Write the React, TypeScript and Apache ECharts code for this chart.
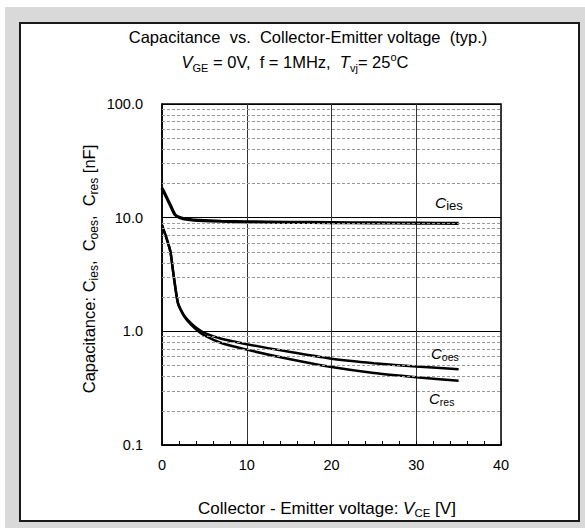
import React, { useEffect, useRef } from "react";
import * as echarts from "echarts";

// Data
const vceCies = [0, 0.5, 1, 1.5, 2, 3, 5, 7, 10, 15, 20, 25, 30, 35];
const cies = [18.2, 15.3, 12.8, 10.7, 10.1, 9.65, 9.4, 9.3, 9.2, 9.1, 9.05, 9.0, 8.95, 8.9];
const vceOut = [0, 0.5, 1, 1.3, 1.6, 1.9, 2.5, 3, 4, 5, 7, 10, 15, 20, 25, 30, 35];
const coes = [8.6, 6.7, 5.0, 3.4, 2.35, 1.75, 1.42, 1.27, 1.08, 0.97, 0.86, 0.77, 0.66, 0.575, 0.525, 0.49, 0.465];
const cres = [8.6, 6.7, 5.0, 3.4, 2.35, 1.75, 1.4, 1.24, 1.04, 0.92, 0.79, 0.69, 0.57, 0.485, 0.43, 0.395, 0.367];
const minorGrid = [0.2, 0.3, 0.4, 0.5, 0.6, 0.7, 0.8, 0.9, 2, 3, 4, 5, 6, 7, 8, 9, 20, 30, 40, 50, 60, 70, 80, 90];

const FONT = "'Liberation Sans', Arial, sans-serif";

function pairs(xs: number[], ys: number[]) {
  return xs.map((x, i) => [x, ys[i]]);
}

export default function App() {
  const ref = useRef<HTMLDivElement>(null);
  useEffect(() => {
    if (!ref.current) return;
    const chart = echarts.init(ref.current, null, { renderer: "svg" });
    const base = { fontFamily: FONT, color: "#000" };
    const rich = {
      n: { ...base, fontSize: 16.5, lineHeight: 22 },
      i: { ...base, fontSize: 16.5, lineHeight: 22, fontStyle: "italic" },
      s: { ...base, fontSize: 11, lineHeight: 12, verticalAlign: "bottom" },
      sup: { ...base, fontSize: 11, lineHeight: 12, verticalAlign: "top" },
      xn: { ...base, fontSize: 17, lineHeight: 22 },
      xi: { ...base, fontSize: 17, lineHeight: 22, fontStyle: "italic" },
      xs: { ...base, fontSize: 11.5, lineHeight: 12, verticalAlign: "bottom" },
      yn: { ...base, fontSize: 16.5, lineHeight: 22 },
      ys: { ...base, fontSize: 12, lineHeight: 12, verticalAlign: "bottom" },
      ci: { ...base, fontSize: 15.5, lineHeight: 20, fontStyle: "italic" },
      cs: { ...base, fontSize: 13, lineHeight: 12, verticalAlign: "bottom" },
      ci2: { ...base, fontSize: 15, lineHeight: 18, fontStyle: "italic" },
      cs2: { ...base, fontSize: 10.5, lineHeight: 11, verticalAlign: "bottom" },
    };
    chart.setOption({
      animation: false,
      graphic: [
        { type: "rect", z: -10, shape: { x: 5, y: 7, width: 580, height: 521 }, style: { fill: "#d9d9d9" } },
        { type: "rect", z: -9, shape: { x: 20, y: 23, width: 559, height: 498 }, style: { fill: "#fff", stroke: "#1a1a1a", lineWidth: 2 } },
        { type: "text", z: 100, x: 308, y: 37, style: { text: "Capacitance  vs.  Collector-Emitter voltage  (typ.)", font: `16.5px ${FONT}`, fill: "#000", align: "center", verticalAlign: "middle" } },
        { type: "text", z: 100, x: 295, y: 62, style: { text: "{i|V}{s|GE}{n| = 0V,  f = 1MHz,  }{i|T}{s|vj}{n|= 25}{sup|o}{n|C}", rich, align: "center", verticalAlign: "middle" } },
        { type: "text", z: 100, x: 89, y: 269, rotation: Math.PI / 2, style: { text: "{yn|Capacitance: C}{ys|ies}{yn|,  C}{ys|oes}{yn|,  C}{ys|res}{yn| [nF]}", rich, align: "center", verticalAlign: "middle" } },
        { type: "text", z: 100, x: 327, y: 508, style: { text: "{xn|Collector - Emitter voltage: }{xi|V}{xs|CE}{xn| [V]}", rich, align: "center", verticalAlign: "middle" } },
        { type: "text", z: 100, x: 435, y: 202, style: { text: "{ci|C}{cs|ies}", rich, align: "left", verticalAlign: "middle" } },
        { type: "text", z: 100, x: 431, y: 353, style: { text: "{ci2|C}{cs2|oes}", rich, align: "left", verticalAlign: "middle" } },
        { type: "text", z: 100, x: 429, y: 398, style: { text: "{ci2|C}{cs2|res}", rich, align: "left", verticalAlign: "middle" } },
      ],
      grid: { left: 162, top: 104, right: 84, bottom: 83, show: true, borderColor: "#000", borderWidth: 1.5, backgroundColor: "transparent" },
      xAxis: {
        type: "value",
        min: 0,
        max: 40,
        interval: 10,
        axisLine: { show: true, lineStyle: { color: "#000", width: 1.5 } },
        axisTick: { show: true, inside: true, length: 4, lineStyle: { color: "#000" } },
        minorTick: { show: true, splitNumber: 5, length: 4, lineStyle: { color: "#000" } },
        axisLabel: { margin: 12, fontSize: 14.5, fontFamily: FONT, color: "#000" },
        splitLine: { show: true, lineStyle: { color: "#333", width: 1 } },
      },
      yAxis: {
        type: "log",
        logBase: 10,
        min: 0.1,
        max: 100,
        axisLine: { show: true, lineStyle: { color: "#000", width: 1.5 } },
        axisTick: { show: false },
        axisLabel: { margin: 19, fontSize: 14.5, fontFamily: FONT, color: "#000", formatter: (v: number) => v.toFixed(1) },
        splitLine: { show: true, lineStyle: { color: "#000", width: 1 } },
      },
      series: [
        {
          type: "line",
          z: 1,
          data: [],
          silent: true,
          markLine: {
            silent: true,
            symbol: "none",
            label: { show: false },
            lineStyle: { color: "#9a9a9a", type: [3, 2], width: 1 },
            data: minorGrid.map((v) => ({ yAxis: v })),
          },
        },
        { type: "line", name: "Cies", data: pairs(vceCies, cies), showSymbol: false, smooth: 0.2, lineStyle: { color: "#000", width: 3.2 } },
        { type: "line", name: "Coes", data: pairs(vceOut, coes), showSymbol: false, smooth: 0.2, lineStyle: { color: "#000", width: 2.5 } },
        { type: "line", name: "Cres", data: pairs(vceOut, cres), showSymbol: false, smooth: 0.2, lineStyle: { color: "#000", width: 2.5 } },
      ],
    });
    return () => chart.dispose();
  }, []);
  return <div ref={ref} style={{ position: "absolute", left: 0, top: 0, width: 585, height: 528 }} />;
}
